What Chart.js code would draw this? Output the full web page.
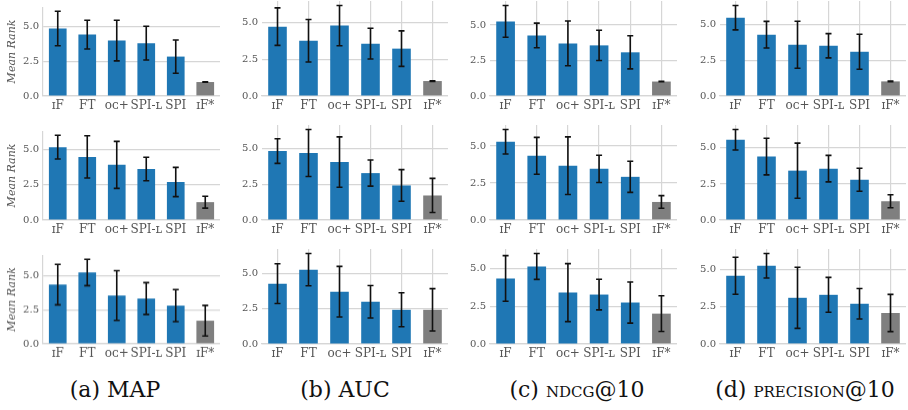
<!DOCTYPE html>
<html>
<head>
<meta charset="utf-8">
<script src="https://cdn.jsdelivr.net/npm/chart.js@4.4.1/dist/chart.umd.min.js"></script>
<style>
  body { margin: 0; background: #fff; width: 908px; height: 410px; position: relative; overflow: hidden; }
  canvas { position: absolute; }
  .cap { position: absolute; top: 377px; font-family: "DejaVu Serif", serif; font-size: 22px; color: #111; text-align: center; width: 230px; }
  .sc { font-variant: small-caps; }
</style>
</head>
<body>
<div class="cap" style="left:0px">(a) MAP</div>
<div class="cap" style="left:230px">(b) AUC</div>
<div class="cap" style="left:462px">(c) <span class="sc">ndcg</span>@10</div>
<div class="cap" style="left:690px">(d) <span class="sc">precision</span>@10</div>
<script>
// methods on the x axis
const methods = ['ɪF', 'FT', 'ᴏᴄ+', 'SPI-ʟ', 'SPI', 'ɪF*']
const yTicks = [0, 2.5, 5.0]

// mean rank per row (top, middle, bottom) for each metric
const mapMean = [
  [4.88, 4.44, 4.01, 3.82, 2.85, 1.01],
  [5.14, 4.45, 3.89, 3.60, 2.68, 1.26],
  [4.36, 5.25, 3.55, 3.33, 2.81, 1.70]
]
const mapErr = [
  [1.25, 1.04, 1.47, 1.22, 1.20, 0.02],
  [0.84, 1.49, 1.66, 0.83, 1.03, 0.42],
  [1.49, 0.97, 1.83, 1.17, 1.18, 1.13]
]
const aucMean = [
  [4.73, 3.77, 4.80, 3.57, 3.23, 1.02],
  [4.81, 4.67, 4.04, 3.27, 2.41, 1.71],
  [4.27, 5.26, 3.70, 2.99, 2.42, 2.42]
]
const aucErr = [
  [1.28, 1.45, 1.37, 1.05, 1.21, 0.02],
  [0.86, 1.64, 1.76, 0.91, 1.10, 1.19],
  [1.41, 1.14, 1.79, 1.15, 1.20, 1.50]
]
const ndcgMean = [
  [5.26, 4.27, 3.71, 3.57, 3.08, 1.02],
  [5.29, 4.34, 3.67, 3.46, 2.92, 1.22],
  [4.36, 5.16, 3.42, 3.29, 2.76, 2.02]
]
const ndcgErr = [
  [1.12, 0.87, 1.58, 1.07, 1.17, 0.02],
  [0.83, 1.25, 1.95, 0.92, 1.05, 0.43],
  [1.52, 0.86, 1.93, 1.02, 1.37, 1.19]
]
const precMean = [
  [5.47, 4.28, 3.58, 3.51, 3.09, 1.02],
  [5.56, 4.40, 3.42, 3.56, 2.79, 1.30],
  [4.58, 5.25, 3.10, 3.30, 2.70, 2.08]
]
const precErr = [
  [0.85, 0.93, 1.64, 0.85, 1.22, 0.02],
  [0.71, 1.27, 1.91, 0.92, 0.80, 0.45],
  [1.24, 0.82, 2.05, 1.17, 1.02, 1.25]
]

const metrics = [
  { mean: mapMean, err: mapErr },
  { mean: aucMean, err: aucErr },
  { mean: ndcgMean, err: ndcgErr },
  { mean: precMean, err: precErr }
]

// panel placement
const colLeft = [0, 228, 456, 686]
const colWidth = [220, 220, 221, 220]
const colAxis = [43, 34, 34, 34]
const rowBottom = [96, 220, 343.5]
const rowTop = [1, 125, 248.5]
const rowTopFirst = [7, 131, 255]
const xAxisH = 22

const barBlue = '#1f77b4'
const barGray = '#7f7f7f'
const gridColor = '#d6d6d6'
const tickColor = '#555'

// draws the std bars on top of each bar
const errorBars = {
  id: 'errorBars',
  afterDatasetsDraw(chart, args, opts) {
    const ctx = chart.ctx
    const yScale = chart.scales.y
    const meta = chart.getDatasetMeta(0)
    const means = chart.data.datasets[0].data
    ctx.save()
    ctx.strokeStyle = '#111'
    ctx.lineWidth = 1.6
    meta.data.forEach((bar, i) => {
      const lo = yScale.getPixelForValue(means[i] - opts.err[i])
      const hi = yScale.getPixelForValue(means[i] + opts.err[i])
      const x = bar.x
      ctx.beginPath()
      ctx.moveTo(x, lo); ctx.lineTo(x, hi)
      ctx.moveTo(x - 3, lo); ctx.lineTo(x + 3, lo)
      ctx.moveTo(x - 3, hi); ctx.lineTo(x + 3, hi)
      ctx.stroke()
    })
    ctx.restore()
  }
}

function makePanel(col, row) {
  const mean = metrics[col].mean[row]
  const err = metrics[col].err[row]
  const top = col === 0 ? rowTopFirst[row] : rowTop[row]
  const plotH = rowBottom[row] - top

  const canvas = document.createElement('canvas')
  canvas.width = colWidth[col]
  canvas.height = plotH + xAxisH
  canvas.style.left = colLeft[col] + 'px'
  canvas.style.top = top + 'px'
  canvas.style.width = colWidth[col] + 'px'
  canvas.style.height = (plotH + xAxisH) + 'px'
  document.body.appendChild(canvas)

  let yMax = 0
  mean.forEach((m, i) => { yMax = Math.max(yMax, m + err[i]) })
  yMax = yMax * 1.05

  new Chart(canvas.getContext('2d'), {
    type: 'bar',
    data: {
      labels: methods,
      datasets: [{
        data: mean,
        backgroundColor: mean.map((m, i) => i === methods.length - 1 ? barGray : barBlue),
        barPercentage: 0.6,
        categoryPercentage: 1.0
      }]
    },
    options: {
      responsive: false,
      animation: false,
      layout: { padding: 0 },
      plugins: {
        legend: { display: false },
        tooltip: { enabled: false },
        errorBars: { err: err }
      },
      scales: {
        x: {
          offset: true,
          grid: { display: col !== 0, offset: false, color: gridColor, lineWidth: 1.2, drawTicks: false },
          border: { display: true, color: gridColor, width: 1.2 },
          ticks: { color: tickColor, padding: 3, font: { family: 'DejaVu Serif', size: 12 }, maxRotation: 0, autoSkip: false },
          afterFit(s) { s.height = xAxisH; s.paddingLeft = 0; s.paddingRight = 0 }
        },
        y: {
          min: 0,
          max: yMax,
          afterBuildTicks(s) { s.ticks = yTicks.map(v => ({ value: v })) },
          grid: { color: gridColor, lineWidth: 1.2, drawTicks: false },
          border: { display: col === 0, color: gridColor, width: 1.2 },
          ticks: { color: tickColor, padding: 4, font: { family: 'DejaVu Serif', size: 10 }, callback: v => v.toFixed(1) },
          title: {
            display: col === 0,
            text: 'Mean Rank',
            color: tickColor,
            padding: { top: 6, bottom: 0 },
            font: { family: 'DejaVu Serif', size: 11, style: 'italic' }
          },
          afterFit(s) { s.width = colAxis[col]; s.paddingTop = 0; s.paddingBottom = 0 }
        }
      }
    },
    plugins: [errorBars]
  })
}

for (let r = 0; r < 3; r++) {
  for (let c = 0; c < 4; c++) {
    makePanel(c, r)
  }
}
</script>
</body>
</html>
